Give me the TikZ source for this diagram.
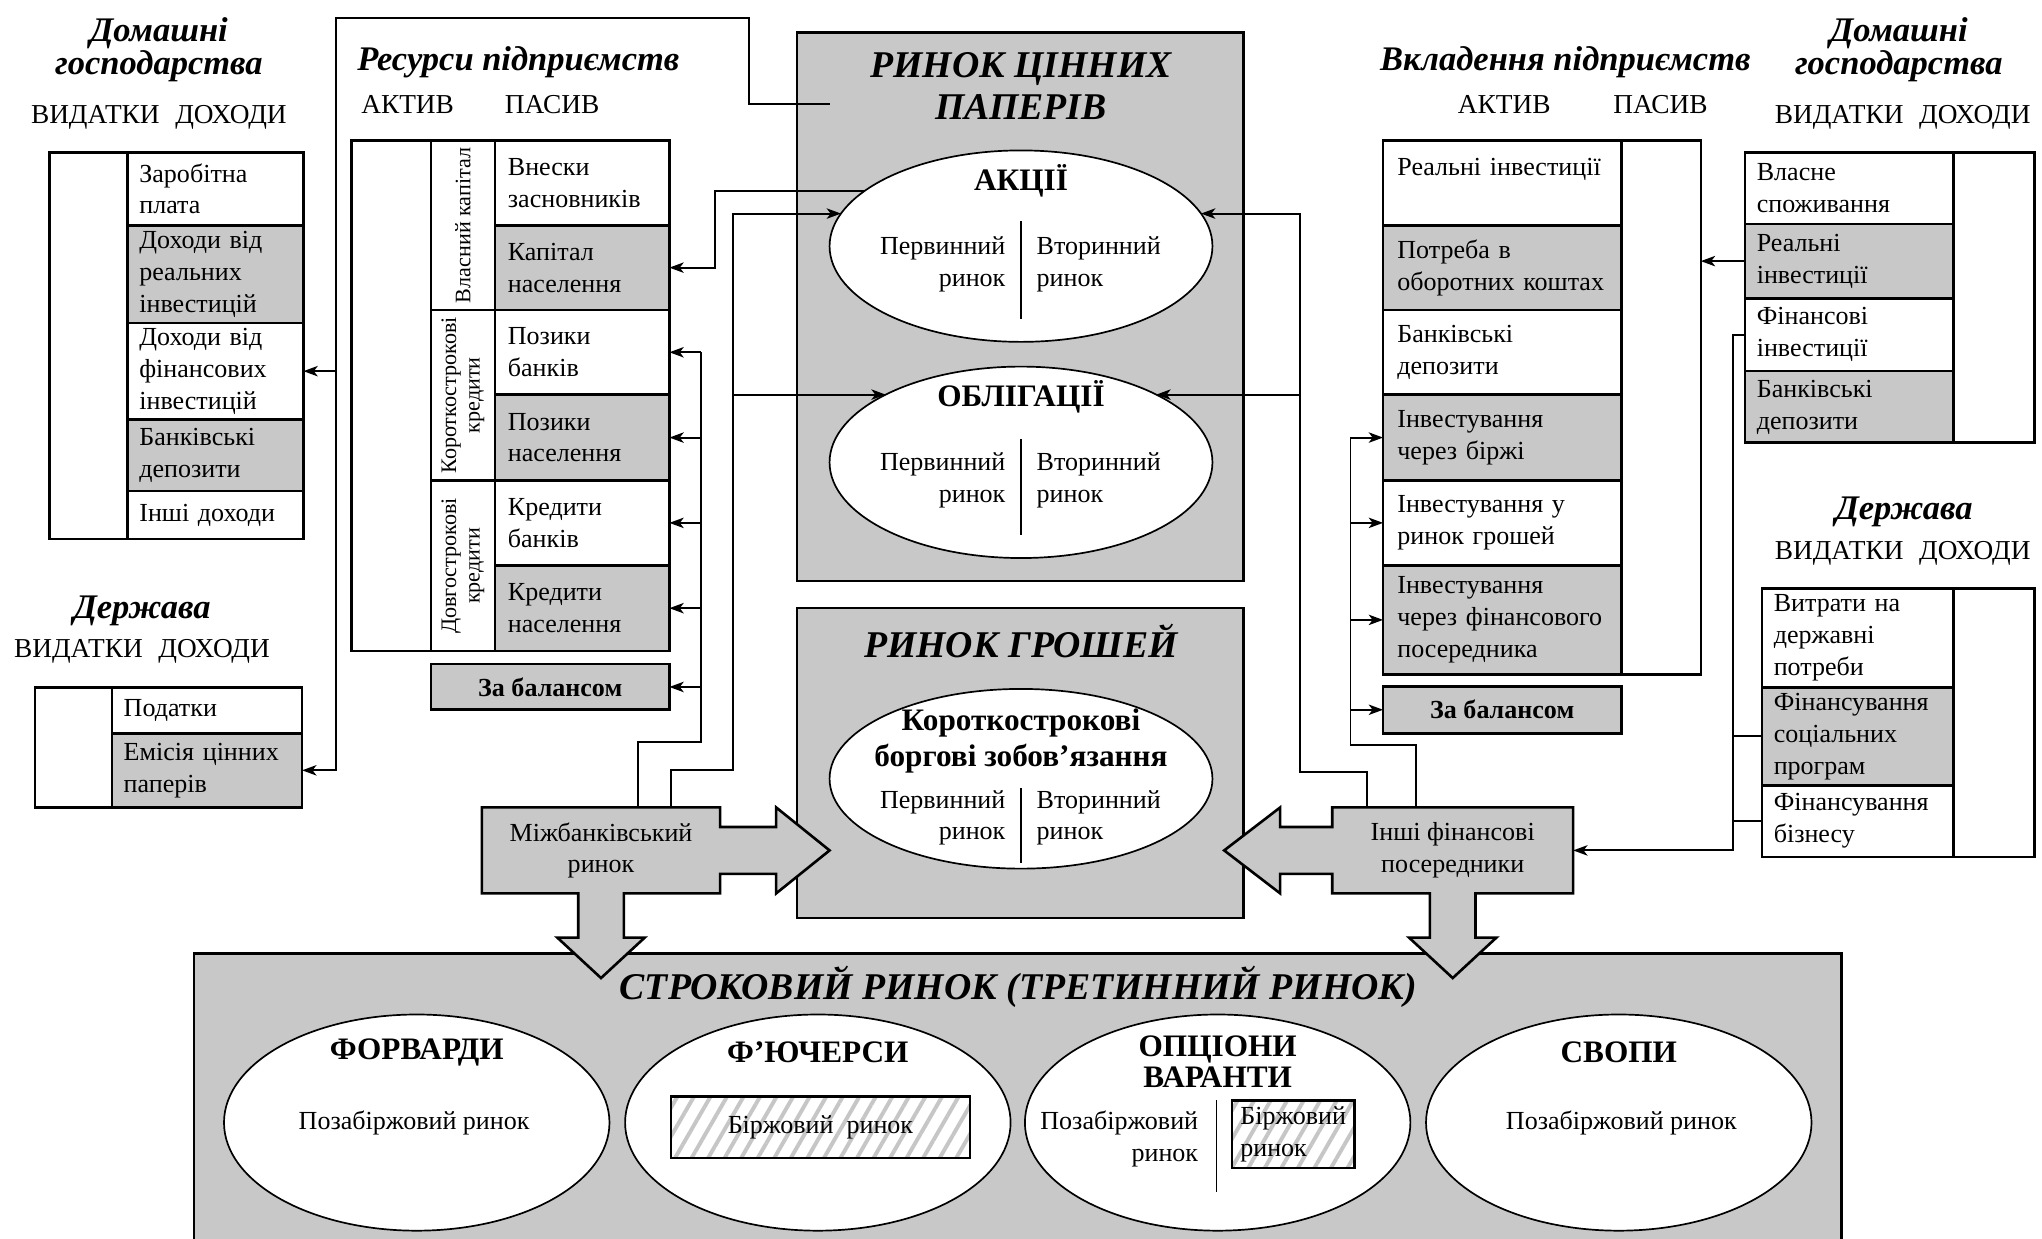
\documentclass[tikz,border=0pt]{standalone}
\usepackage{fontspec}
\setmainfont{Liberation Serif}
\usetikzlibrary{shapes.geometric,arrows.meta,patterns.meta}
\definecolor{gf}{RGB}{200,200,200}
\newcommand\ftxt{\fontsize{20}{24.5}\selectfont}
\newcommand\fcap{\fontsize{21}{24}\selectfont}
\newcommand\fhd{\fontsize{26.5}{23}\selectfont\bfseries\itshape}
\newcommand\fbig{\fontsize{29}{32}\selectfont\bfseries\itshape}
\newcommand\fbold{\fontsize{24}{28}\selectfont\bfseries}
\newcommand\fbtwo{\fontsize{24}{24}\selectfont\bfseries}
\newcommand\fzb{\fontsize{20}{24}\selectfont\bfseries}
\newcommand\frot{\fontsize{17}{18}\selectfont}
\begin{document}
\begin{tikzpicture}[x=1pt,y=-1pt,
  every node/.style={outer sep=0pt},
  frm/.style={draw, line width=2pt, anchor=north west, inner sep=0pt},
  cell/.style n args={3}{draw, line width=2pt, anchor=north west, minimum width=#1pt, minimum height=#2pt, text width=#3pt, inner xsep=0pt, inner ysep=0pt, align=left, font=\ftxt},
  conn/.style={line width=1.5pt},
  arr/.style={line width=1.5pt, -{Stealth[length=11pt,width=8pt,inset=3pt]}},
  oval/.style={ellipse, draw, line width=1.3pt, fill=white, inner sep=0pt},
  blk/.style={draw, line width=2pt, fill=gf, line join=miter},
  hatch/.style={fill=white, anchor=north west, inner sep=0pt, postaction={pattern={Lines[angle=60,distance=11pt,line width=3pt]}, pattern color=gray!45}, postaction={draw, line width=1.8pt}},
  rot/.style={rotate=90, align=center, font=\frot, inner sep=0pt},
  ttl/.style={font=\fhd, align=center, inner sep=0pt},
  capt/.style={font=\fcap, inner sep=0pt},
  dv/.style={line width=1.3pt}
]
\useasboundingbox (0,0) rectangle (1568,951);

% ---------- left households ----------
\node[ttl] (hhLt) at (122,38) {Домашні\\господарства};
\node[capt] (hhLc) at (122,90) {ВИДАТКИ\hspace{12pt}ДОХОДИ};
\node[frm, minimum width=195pt, minimum height=297pt] (hhL) at (38,117) {};
\node[cell={135}{56}{117}] (hhL1) at (98,117) {Заробітна\\плата};
\node[cell={135}{75}{117}, fill=gf] (hhL2) at (98,173) {Доходи від\\реальних\\інвестицій};
\node[cell={135}{74}{117}] (hhL3) at (98,248) {Доходи від\\фінансових\\інвестицій};
\node[cell={135}{55}{117}, fill=gf] (hhL4) at (98,322) {Банківські\\депозити};
\node[cell={135}{37}{117}] (hhL5) at (98,377) {Інші доходи};

% ---------- left state ----------
\node[ttl] (dsLt) at (109,469) {Держава};
\node[capt] (dsLc) at (109,500) {ВИДАТКИ\hspace{12pt}ДОХОДИ};
\node[frm, minimum width=205pt, minimum height=92pt] (dsL) at (27,528) {};
\node[cell={146}{35}{128}] (dsL1) at (86,528) {Податки};
\node[cell={146}{57}{128}, fill=gf] (dsL2) at (86,563) {Емісія цінних\\паперів};

% ---------- resources ----------
\node[ttl] (rest) at (398,48) {Ресурси підприємств};
\node[capt] (resa) at (313,80) {АКТИВ};
\node[capt] (resp) at (424,80) {ПАСИВ};
\node[frm, minimum width=244pt, minimum height=392pt] (res) at (270,108) {};
\node[frm, minimum width=49pt, minimum height=130pt] (lblA) at (331,108) {};
\node[frm, minimum width=49pt, minimum height=131pt] (lblB) at (331,238) {};
\node[frm, minimum width=49pt, minimum height=131pt] (lblC) at (331,369) {};
\node[rot] (lblAt) at (lblA.center) {Власний капітал};
\node[rot] (lblBt) at (lblB.center) {Короткострокові\\кредити};
\node[rot] (lblCt) at (lblC.center) {Довгострокові\\кредити};
\node[cell={134}{65}{114}] (resV) at (380,108) {Внески\\засновників};
\node[cell={134}{65}{114}, fill=gf] (resK) at (380,173) {Капітал\\населення};
\node[cell={134}{65}{114}] (resPB) at (380,238) {Позики\\банків};
\node[cell={134}{66}{114}, fill=gf] (resPN) at (380,303) {Позики\\населення};
\node[cell={134}{65}{114}] (resKB) at (380,369) {Кредити\\банків};
\node[cell={134}{66}{114}, fill=gf] (resKN) at (380,434) {Кредити\\населення};
\node[frm, fill=gf, minimum width=183pt, minimum height=35pt, font=\fzb] (resZB) at (331,510) {За балансом};

% ---------- investments ----------
\node[ttl] (vkt) at (1202,48) {Вкладення підприємств};
\node[capt] (vka) at (1155,80) {АКТИВ};
\node[capt] (vkp) at (1275,80) {ПАСИВ};
\node[frm, minimum width=244pt, minimum height=410pt] (vk) at (1062,108) {};
\node[cell={183}{65}{161}] (vkR) at (1062,108) {Реальні інвестиції\\\mbox{}};
\node[cell={183}{65}{161}, fill=gf] (vkP) at (1062,173) {Потреба в\\оборотних коштах};
\node[cell={183}{65}{161}] (vkD) at (1062,238) {Банківські\\депозити};
\node[cell={183}{66}{161}, fill=gf] (vkB) at (1062,303) {Інвестування\\через біржі};
\node[cell={183}{65}{161}] (vkG) at (1062,369) {Інвестування у\\ринок грошей};
\node[cell={183}{84}{161}, fill=gf] (vkF) at (1062,434) {Інвестування\\через фінансового\\посередника};
\node[frm, fill=gf, minimum width=183pt, minimum height=36pt, font=\fzb] (vkZB) at (1062,527) {За балансом};

% ---------- right households ----------
\node[ttl] (hhRt) at (1458,38) {Домашні\\господарства};
\node[capt] (hhRc) at (1461,90) {ВИДАТКИ\hspace{12pt}ДОХОДИ};
\node[frm, minimum width=222pt, minimum height=223pt] (hhR) at (1340,117) {};
\node[cell={160}{55}{142}] (hhR1) at (1340,117) {Власне\\споживання};
\node[cell={160}{57}{142}, fill=gf] (hhR2) at (1340,172) {Реальні\\інвестиції};
\node[cell={160}{56}{142}] (hhR3) at (1340,229) {Фінансові\\інвестиції};
\node[cell={160}{55}{142}, fill=gf] (hhR4) at (1340,285) {Банківські\\депозити};

% ---------- right state ----------
\node[ttl] (dsRt) at (1462,393) {Держава};
\node[capt] (dsRc) at (1461,425) {ВИДАТКИ\hspace{12pt}ДОХОДИ};
\node[frm, minimum width=209pt, minimum height=206pt] (dsR) at (1353,452) {};
\node[cell={147}{76}{129}] (dsR1) at (1353,452) {Витрати на\\державні\\потреби};
\node[cell={147}{75}{129}, fill=gf] (dsR2) at (1353,528) {Фінансування\\соціальних\\програм};
\node[cell={147}{55}{129}] (dsR3) at (1353,603) {Фінансування\\бізнесу};

% ---------- securities market ----------
\node[frm, fill=gf, minimum width=343pt, minimum height=421pt] (rcp) at (612,25) {};
\node[font=\fbig, align=center, inner sep=0pt] (rcpT) at (784,66) {РИНОК ЦІННИХ\\ПАПЕРІВ};
\node[oval, minimum width=294pt, minimum height=147pt] (akc) at (784,189) {};
\node[font=\fbold, inner sep=0pt] (akcT) at (784,139) {АКЦІЇ};
\node[font=\ftxt, align=right, anchor=east, inner sep=0pt] (akcP) at (772,203) {Первинний\\ринок};
\node[font=\ftxt, align=left, anchor=west, inner sep=0pt] (akcV) at (796,203) {Вторинний\\ринок};
\draw[dv] (784,170) -- (784,245);
\node[oval, minimum width=294pt, minimum height=147pt] (obl) at (784,355) {};
\node[font=\fbold, inner sep=0pt] (oblT) at (784,305) {ОБЛІГАЦІЇ};
\node[font=\ftxt, align=right, anchor=east, inner sep=0pt] (oblP) at (772,369) {Первинний\\ринок};
\node[font=\ftxt, align=left, anchor=west, inner sep=0pt] (oblV) at (796,369) {Вторинний\\ринок};
\draw[dv] (784,337) -- (784,411);

% ---------- money market ----------
\node[frm, fill=gf, minimum width=343pt, minimum height=238pt] (rg) at (612,467) {};
\node[font=\fbig, inner sep=0pt] (rgT) at (784,492) {РИНОК ГРОШЕЙ};
\node[oval, minimum width=294pt, minimum height=138pt] (kbz) at (784,598) {};
\node[font=\fbold, align=center, inner sep=0pt] (kbzT) at (784,569) {Короткострокові\\боргові зобов’язання};
\node[font=\ftxt, align=right, anchor=east, inner sep=0pt] (kbzP) at (772,628) {Первинний\\ринок};
\node[font=\ftxt, align=left, anchor=west, inner sep=0pt] (kbzV) at (796,628) {Вторинний\\ринок};
\draw[dv] (784,605) -- (784,663);

% ---------- term market ----------
\node[frm, fill=gf, minimum width=1265pt, minimum height=225pt] (term) at (149,732) {};
\node[font=\fbig, inner sep=0pt] (termT) at (782,758) {СТРОКОВИЙ РИНОК (ТРЕТИННИЙ РИНОК)};
\node[oval, minimum width=296pt, minimum height=166pt] (forw) at (320,862) {};
\node[oval, minimum width=296pt, minimum height=166pt] (fut) at (628,862) {};
\node[oval, minimum width=296pt, minimum height=166pt] (opt) at (935,862) {};
\node[oval, minimum width=296pt, minimum height=166pt] (swp) at (1243,862) {};
\node[font=\fbold, inner sep=0pt] (forwT) at (320,808) {ФОРВАРДИ};
\node[font=\fbold, inner sep=0pt] (futT) at (628,808) {Ф’ЮЧЕРСИ};
\node[font=\fbtwo, align=center, inner sep=0pt] (optT) at (935,815) {ОПЦІОНИ\\ВАРАНТИ};
\node[font=\fbold, inner sep=0pt] (swpT) at (1243,808) {СВОПИ};
\node[font=\ftxt, inner sep=0pt] (forwP) at (318,862) {Позабіржовий ринок};
\node[font=\ftxt, inner sep=0pt] (swpP) at (1245,862) {Позабіржовий ринок};
\node[hatch, minimum width=230pt, minimum height=47pt, font=\ftxt] (futB) at (515,842) {Біржовий\ \ ринок};
\node[font=\ftxt, align=right, anchor=east, inner sep=0pt] (optP) at (920,874.5) {Позабіржовий\\ринок};
\draw[dv] (934,845) -- (934,915);
\node[hatch, minimum width=94pt, minimum height=52pt, font=\ftxt, align=left] (optB) at (946,845) {Біржовий\\ринок};

% ---------- block arrows ----------
\draw[blk] (370,620) -- (553,620) -- (553,635) -- (596,635) -- (596,620) -- (637,653) -- (596,686) -- (596,671) -- (553,671) -- (553,686) -- (479,686) -- (479,720) -- (495,720) -- (461.5,751) -- (428,720) -- (444,720) -- (444,686) -- (370,686) -- cycle;
\node[font=\ftxt, align=center, minimum width=183pt, minimum height=66pt, anchor=north west, inner sep=0pt] (mbr) at (370,620) {Міжбанківський\\ринок};
\draw[blk] (1023,620) -- (1208,620) -- (1208,686) -- (1133,686) -- (1133,720) -- (1149,720) -- (1115.5,751) -- (1082,720) -- (1098,720) -- (1098,686) -- (1023,686) -- (1023,671) -- (983,671) -- (983,686) -- (940,653) -- (983,620) -- (983,635) -- (1023,635) -- cycle;
\node[font=\ftxt, align=center, minimum width=185pt, minimum height=66pt, anchor=north west, inner sep=0pt] (inshi) at (1023,620) {Інші фінансові\\посередники};

% ---------- connectors: left ----------
\coordinate (rcpIn) at (637,80);
\coordinate (vL) at (258,14);
\draw[arr] (rcpIn) -- (575,80) |- (vL) |- (dsL2.east);
\draw[arr] (hhL3.east -| vL) -- (hhL3.east);

\coordinate (akcL1) at (663.4,147);
\draw[arr] (akcL1) -- (549,147) |- (resK.east);
\coordinate (m1) at (515,620);
\coordinate (akcL2) at (645.8,164);
\coordinate (oblL) at (680.1,303);
\coordinate (v563) at (563,0);
\draw[arr] (m1) -- (515,591) -- (563,591) |- (akcL2);
\draw[arr] (oblL -| v563) -- (oblL);

\coordinate (m2) at (490,620);
\coordinate (v538) at (538,0);
\draw[conn] (m2) -- (490,570) -- (538,570) -- (resPB.east -| v538);
\foreach \n in {resPB,resPN,resKB,resKN,resZB} \draw[arr] (\n.east -| v538) -- (\n.east);

% ---------- connectors: right ----------
\coordinate (i1) at (1050,620);
\coordinate (akcR) at (922.2,164);
\coordinate (oblR) at (887.9,303);
\coordinate (v998) at (998,0);
\draw[arr] (i1) -- (1050,593) -- (998,593) |- (akcR);
\draw[arr] (oblR -| v998) -- (oblR);
\coordinate (i2) at (1087,620);
\coordinate (v1037) at (1037,0);
\draw[conn] (i2) -- (1087,572) -- (1037,572) -- (vkB.west -| v1037);
\foreach \n in {vkB,vkG,vkF,vkZB} \draw[arr] (\n.west -| v1037) -- (\n.west);

\draw[arr] (hhR2.west) -- (hhR2.west -| vk.east);
\coordinate (v1331) at (1331,0);
\draw[arr] (hhR3.west) -- (hhR3.west -| v1331) |- (inshi.east);
\draw[conn] (dsR2.west) -- (dsR2.west -| v1331);
\draw[conn] (dsR3.west) -- (dsR3.west -| v1331);
\end{tikzpicture}
\end{document}
